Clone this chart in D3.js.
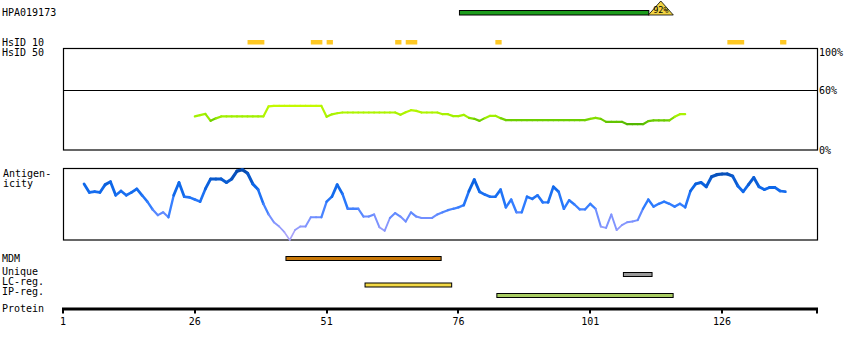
<!DOCTYPE html>
<html>
<head>
<meta charset="utf-8">
<script src="https://cdn.jsdelivr.net/npm/d3@7"></script>
<style>
  body { margin: 0; background: #fff; }
  text { font-family: 'DejaVu Sans Mono', monospace; font-size: 10px; fill: #000; }
</style>
</head>
<body>
<div id="chart"></div>
<script>
// Protein feature chart for HPA019173

const protLength = 144
const axisTicks = [1, 26, 51, 76, 101, 126]

// antigen fragment on top
const antigenName = 'HPA019173'
const antigenRange = [76, 114]
const antigenMatch = '92%'

// HsID 10 blocks (residue ranges, inclusive)
const hsid10Blocks = [[36, 38], [48, 49], [51, 51], [64, 64], [66, 67], [83, 83], [127, 129], [137, 137]]

// HsID 50 percent identity, starting at residue 26
const hsid50Start = 26
const hsid50 = [
  33.4, 34.7, 36, 29, 31.5, 33.4, 33.4, 33.4, 33.4, 33.4,
  33.4, 33.4, 33.4, 33.4, 43.5, 43.9, 43.9, 43.9, 43.9, 43.9,
  43.9, 43.9, 43.9, 43.9, 43.9, 33, 35.5, 36.6, 37.3, 37.3,
  37.3, 37.3, 37.3, 37.3, 37.3, 37.3, 37.3, 37.3, 37.3, 35,
  37.6, 39.6, 38.9, 37.3, 37.3, 37.3, 37.3, 35.6, 35.6, 33.7,
  33.7, 35, 32, 31, 29, 31.7, 34, 34, 31.7, 29.7,
  29.7, 29.7, 29.7, 29.7, 29.7, 29.7, 29.7, 29.7, 29.7, 29.7,
  29.7, 29.7, 29.7, 29.7, 29.7, 31, 32, 31, 28, 28,
  28, 28, 25.7, 25.7, 25.7, 25.7, 28.7, 29.4, 29.4, 29.4,
  29.4, 33, 35.6, 35.6
]
const hsidTicks = [100, 60, 0]

// antigenicity score (0-100), starting at residue 5
const antigenicityStart = 5
const antigenicity = [
  79, 67, 68, 67, 78, 82, 63, 69, 63, 67,
  72, 63, 54, 43, 35, 39, 32, 63, 81, 61,
  60, 57, 54, 72, 86, 86, 86, 81, 86, 97,
  99, 94, 79, 71, 51, 36, 25, 19, 11, 0,
  14, 19, 19, 32, 32, 32, 54, 61, 78, 65,
  44, 44, 44, 33, 33, 36, 18, 13, 31, 38,
  33, 26, 39, 33, 31, 31, 31, 36, 39, 42,
  44, 46, 49, 69, 85, 68, 64, 61, 61, 71,
  46, 57, 39, 39, 61, 58, 63, 53, 53, 75,
  68, 44, 56, 50, 43, 43, 51, 44, 19, 17,
  36, 14, 21, 25, 26, 28, 44, 57, 47, 51,
  54, 51, 47, 51, 46, 69, 79, 81, 75, 89,
  92, 93, 93, 90, 76, 68, 78, 88, 75, 71,
  74, 74, 69, 68
]

// feature tracks
const featureNames = ['MDM', 'Unique', 'LC-reg.', 'IP-reg.']
const featureRanges = [[43, 72], [107, 112], [58, 74], [83, 116]]
const featureColors = ['#c87808', '#999999', '#f2d844', '#a8cc62']
const featureY = [256, 272, 282.5, 293]
const labelY = [261.5, 275, 285, 295]

const width = 850
const height = 350

const svg = d3.select('#chart')
  .append('svg')
  .attr('width', width)
  .attr('height', height)

const x = d3.scaleLinear().domain([1, protLength]).range([63, 817])
const yHs = d3.scaleLinear().domain([0, 100]).range([150, 49.5])
const yAg = d3.scaleLinear().domain([0, 100]).range([240, 169])

// Top antigen bar
svg.append('text').attr('x', 2).attr('y', 16).text(antigenName)
const triX = x(antigenRange[1]) + 2
svg.append('rect')
  .attr('x', x(antigenRange[0]) + 1).attr('y', 10.5)
  .attr('width', triX - 12 - x(antigenRange[0]) - 1).attr('height', 4.5)
  .attr('fill', '#1c9c1c').attr('stroke', '#000').attr('stroke-width', 1)
svg.append('path')
  .attr('d', `M${triX - 12.5},15 L${triX},1 L${triX + 12.5},15 Z`)
  .attr('fill', '#f2d443').attr('stroke', '#000').attr('stroke-width', 0.8)
svg.append('text')
  .attr('x', triX).attr('y', 12.5)
  .attr('text-anchor', 'middle')
  .style('font-size', '8.5px')
  .text(antigenMatch)

// HsID labels
svg.append('text').attr('x', 2).attr('y', 45.5).text('HsID 10')
svg.append('text').attr('x', 2).attr('y', 55.5).text('HsID 50')

svg.selectAll('.hs10')
  .data(hsid10Blocks)
  .enter()
  .append('rect')
  .attr('class', 'hs10')
  .attr('x', d => x(d[0]))
  .attr('y', 40)
  .attr('width', d => x(d[1] + 1) - x(d[0]) + 1)
  .attr('height', 4.5)
  .attr('fill', '#fec823')

// HsID 50 panel
svg.append('rect')
  .attr('x', 63.5).attr('y', 48.5).attr('width', 754).attr('height', 101.5)
  .attr('fill', 'none').attr('stroke', '#000').attr('stroke-width', 1.2)
svg.append('line')
  .attr('x1', 63).attr('x2', 818)
  .attr('y1', Math.round(yHs(60)) + 0.5).attr('y2', Math.round(yHs(60)) + 0.5)
  .attr('stroke', '#000').attr('stroke-width', 1.2)

svg.selectAll('.hstick')
  .data(hsidTicks)
  .enter()
  .append('text')
  .attr('class', 'hstick')
  .attr('x', 819)
  .attr('y', d => d === 100 ? 56 : d === 0 ? 153.5 : yHs(d) + 4)
  .text(d => d + '%')

const hsColor = d3.scaleLinear()
  .domain([28, 30.5, 33, 44])
  .range(['#62c400', '#72d200', '#a0f000', '#c4fa00'])

const hsPts = hsid50.map((v, i) => [hsid50Start + i, v])
svg.selectAll('.hsseg')
  .data(d3.pairs(hsPts))
  .enter()
  .append('line')
  .attr('class', 'hsseg')
  .attr('x1', d => x(d[0][0])).attr('y1', d => yHs(d[0][1]))
  .attr('x2', d => x(d[1][0])).attr('y2', d => yHs(d[1][1]))
  .attr('stroke', d => hsColor((d[0][1] + d[1][1]) / 2))
  .attr('stroke-width', 2.2)
  .attr('stroke-linecap', 'round')

// Antigenicity panel
svg.append('text').attr('x', 3).attr('y', 176.5).text('Antigen-')
svg.append('text').attr('x', 3).attr('y', 187).text('icity')
svg.append('rect')
  .attr('x', 63.5).attr('y', 168.5).attr('width', 754).attr('height', 71.5)
  .attr('fill', 'none').attr('stroke', '#000').attr('stroke-width', 1.2)

const agColor = d3.scaleLinear()
  .domain([0, 30, 50, 75, 100])
  .range(['#b4a8f8', '#7690ff', '#2e7cff', '#0c66e8', '#0648a8'])
const agWidth = d3.scaleLinear().domain([0, 100]).range([1.5, 3.3])

const agPts = antigenicity.map((v, i) => [antigenicityStart + i, v])
svg.selectAll('.agseg')
  .data(d3.pairs(agPts))
  .enter()
  .append('line')
  .attr('class', 'agseg')
  .attr('x1', d => x(d[0][0])).attr('y1', d => yAg(d[0][1]))
  .attr('x2', d => x(d[1][0])).attr('y2', d => yAg(d[1][1]))
  .attr('stroke', d => agColor((d[0][1] + d[1][1]) / 2))
  .attr('stroke-width', d => agWidth((d[0][1] + d[1][1]) / 2))
  .attr('stroke-linecap', 'round')

// Feature tracks
svg.selectAll('.flabel')
  .data(featureNames)
  .enter()
  .append('text')
  .attr('class', 'flabel')
  .attr('x', 2)
  .attr('y', (d, i) => labelY[i])
  .text(d => d)

svg.selectAll('.fbar')
  .data(featureRanges)
  .enter()
  .append('rect')
  .attr('class', 'fbar')
  .attr('x', d => x(d[0]) + 1.5)
  .attr('y', (d, i) => featureY[i] + 0.5)
  .attr('width', d => x(d[1] + 1) - x(d[0]) - 3)
  .attr('height', 4)
  .attr('fill', (d, i) => featureColors[i])
  .attr('stroke', '#000')
  .attr('stroke-width', 1)

// Protein axis
svg.append('text').attr('x', 2).attr('y', 311.5).text('Protein')
svg.append('line')
  .attr('x1', 62).attr('x2', 818).attr('y1', 309).attr('y2', 309)
  .attr('stroke', '#000').attr('stroke-width', 3)

svg.selectAll('.ptick')
  .data(axisTicks.concat([protLength]))
  .enter()
  .append('line')
  .attr('class', 'ptick')
  .attr('x1', d => Math.round(x(d))).attr('x2', d => Math.round(x(d)))
  .attr('y1', 309).attr('y2', 313.5)
  .attr('stroke', '#000').attr('stroke-width', 2)

svg.selectAll('.plabel')
  .data(axisTicks)
  .enter()
  .append('text')
  .attr('class', 'plabel')
  .attr('x', d => x(d))
  .attr('y', 325)
  .attr('text-anchor', 'middle')
  .text(d => d)
</script>
</body>
</html>
